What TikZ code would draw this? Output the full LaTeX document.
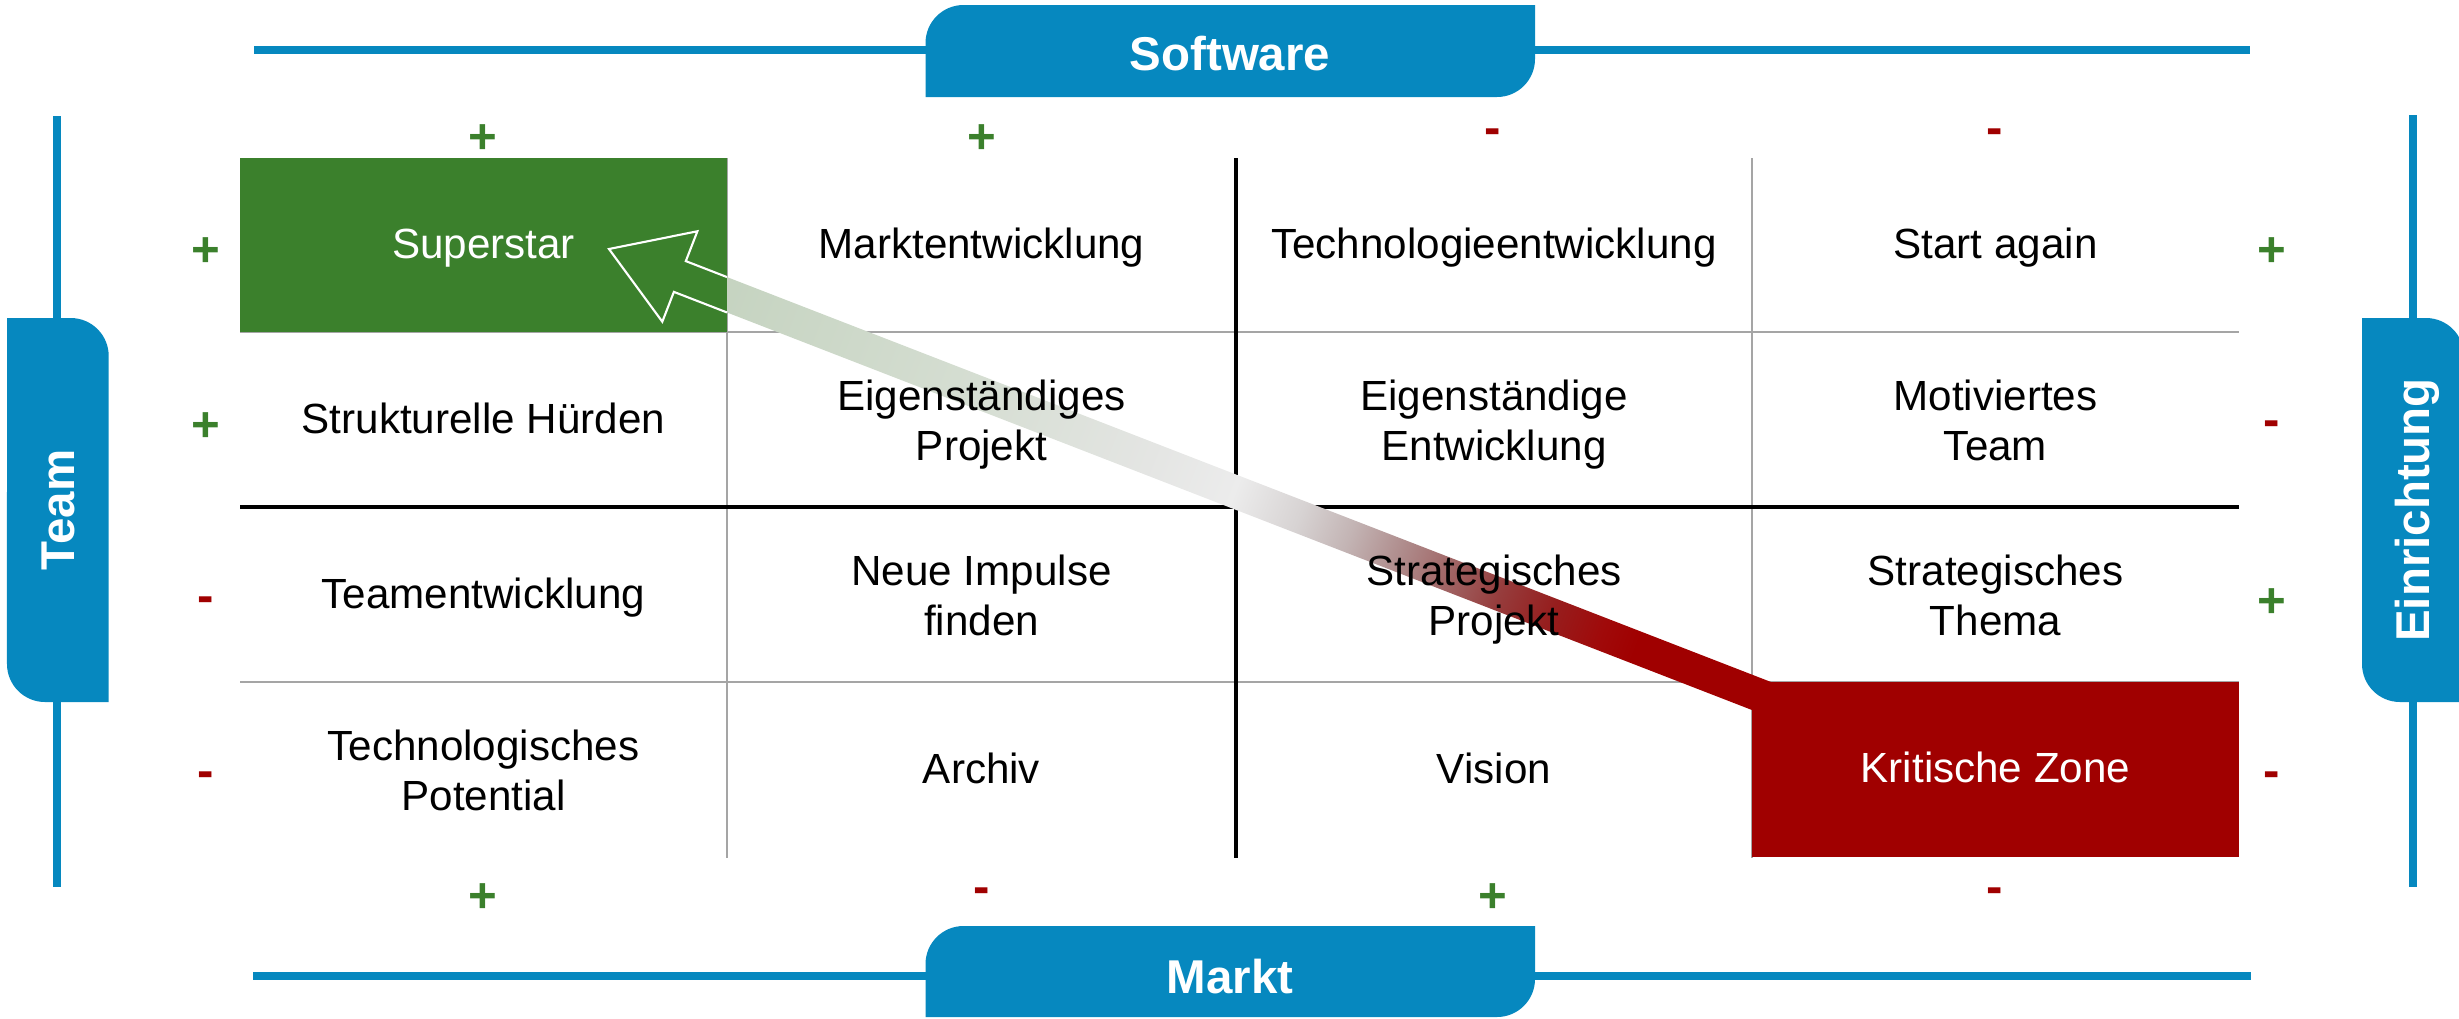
\documentclass[tikz,border=0pt]{standalone}
\usepackage{fontspec}
\setmainfont{Liberation Sans}
\definecolor{tabblue}{RGB}{6,136,191}
\definecolor{stargreen}{RGB}{59,128,44}
\definecolor{zonered}{RGB}{160,0,0}
\definecolor{gridgray}{RGB}{165,165,165}
\pgfdeclarehorizontalshading{arrowband}{100bp}{%
  rgb(0bp)=(.776,.831,.757); rgb(30bp)=(.776,.831,.757);
  rgb(40.6bp)=(.839,.871,.827); rgb(47.6bp)=(.894,.898,.890);
  rgb(51.2bp)=(.925,.925,.925); rgb(53.9bp)=(.843,.827,.827);
  rgb(56bp)=(.765,.706,.706); rgb(58.1bp)=(.686,.549,.549);
  rgb(60.2bp)=(.627,.392,.392); rgb(62.3bp)=(.588,.235,.235);
  rgb(64.4bp)=(.588,.118,.118); rgb(66.5bp)=(.627,.039,.039);
  rgb(68bp)=(.627,0,0); rgb(100bp)=(.627,0,0)}

\begin{document}
\begin{tikzpicture}[
  cell/.style={align=center, font=\fontsize{12}{14.2}\selectfont},
  oneline/.style={cell, text height=0.95em, text depth=0.21em},
  twoline/.style={cell, yshift=-1.2pt, execute at end node={\vphantom{g}}},
  hotcell/.style={oneline, text=white, inner sep=0pt, minimum width=4.87cm, minimum height=1.745cm},
  tabtext/.style={text=white, font=\fontsize{13.5}{16}\selectfont\bfseries},
  signplus/.style={text=stargreen, font=\fontsize{14}{16}\selectfont\bfseries},
  signminus/.style={text=zonered, font=\fontsize{14}{16}\selectfont\bfseries},
  thinline/.style={gridgray, line width=0.6pt},
  thickline/.style={black, line width=0.9pt},
  axisline/.style={tabblue, line width=2.4pt},
]
\useasboundingbox (0,0) rectangle (24.59,-10.18);

% axes
\draw[axisline] (2.54,-0.50) -- (22.50,-0.50);
\draw[axisline] (2.53,-9.76) -- (22.51,-9.76);
\draw[axisline] (0.57,-1.16) -- (0.57,-8.87);
\draw[axisline] (24.13,-1.15) -- (24.13,-8.87);

% tabs
\fill[tabblue] (9.255,-0.97) -- (9.255,-0.43) arc[start angle=180, end angle=90, radius=0.38]
  -- (15.35,-0.05) -- (15.35,-0.59) arc[start angle=0, end angle=-90, radius=0.38] -- cycle;
\fill[tabblue] (9.255,-10.17) -- (9.255,-9.64) arc[start angle=180, end angle=90, radius=0.38]
  -- (15.35,-9.26) -- (15.35,-9.79) arc[start angle=0, end angle=-90, radius=0.38] -- cycle;
\fill[tabblue] (0.07,-3.18) -- (0.707,-3.18) arc[start angle=90, end angle=0, radius=0.38]
  -- (1.087,-7.02) -- (0.45,-7.02) arc[start angle=270, end angle=180, radius=0.38] -- cycle;
\fill[tabblue] (23.62,-3.18) -- (24.26,-3.18) arc[start angle=90, end angle=0, radius=0.38]
  -- (24.64,-7.02) -- (24.0,-7.02) arc[start angle=270, end angle=180, radius=0.38] -- cycle;
\node[tabtext] (software) at (12.30,-0.54) {Software};
\node[tabtext] (markt) at (12.30,-9.77) {Markt};
\node[tabtext, rotate=90] (team) at (0.58,-5.10) {Team};
\node[tabtext, rotate=90] (einrichtung) at (24.17,-5.10) {Einrichtung};

% grid
\draw[thinline] (7.27,-1.58) -- (7.27,-8.575);
\draw[thinline] (17.52,-1.58) -- (17.52,-8.575);
\draw[thinline] (2.40,-3.32) -- (22.39,-3.32);
\draw[thinline] (2.40,-6.82) -- (22.39,-6.82);
\draw[thickline] (12.36,-1.58) -- (12.36,-8.575);
\draw[thickline] (2.40,-5.07) -- (22.39,-5.07);

% arrow
\begin{scope}[transform canvas={shift={(6.09,-2.49)}, rotate=-21.2}]
\shade[shading=arrowband] (0,0) -- (0.76,0.485) -- (0.76,0.165) -- (12.81,0.165)
  -- (12.81,-0.165) -- (0.76,-0.165) -- (0.76,-0.485) -- cycle;
\end{scope}

% cells
\node[hotcell, fill=stargreen] (superstar) at (4.835,-2.45) {Superstar};
\node[oneline] (marktentw) at (9.815,-2.45) {Marktentwicklung};
\node[oneline] (techentw) at (14.94,-2.45) {Technologieentwicklung};
\node[oneline] (startagain) at (19.955,-2.45) {Start again};
\node[oneline] (huerden) at (4.835,-4.20) {Strukturelle Hürden};
\node[twoline] (eigprojekt) at (9.815,-4.20) {Eigenständiges\\Projekt};
\node[twoline] (eigentw) at (14.94,-4.20) {Eigenständige\\Entwicklung};
\node[twoline] (motteam) at (19.955,-4.20) {Motiviertes\\Team};
\node[oneline] (teamentw) at (4.835,-5.95) {Teamentwicklung};
\node[twoline] (impulse) at (9.815,-5.95) {Neue Impulse\\finden};
\node[twoline] (stratprojekt) at (14.94,-5.95) {Strategisches\\Projekt};
\node[twoline] (stratthema) at (19.955,-5.95) {Strategisches\\Thema};
\node[twoline] (techpot) at (4.835,-7.70) {Technologisches\\Potential};
\node[oneline] (archiv) at (9.815,-7.70) {Archiv};
\node[oneline] (vision) at (14.94,-7.70) {Vision};
\node[hotcell, fill=zonered] (kritisch) at (19.955,-7.695) {Kritische Zone};

% arrow head
\begin{scope}[transform canvas={shift={(6.09,-2.49)}, rotate=-21.2}]
\draw[white, line width=0.6pt] (1.2017,0.165) -- (0.76,0.165) -- (0.76,0.485) -- (0,0)
  -- (0.76,-0.485) -- (0.76,-0.165) -- (1.3297,-0.165);
\end{scope}

% signs
\node[signplus] (top1) at (4.83,-1.39) {+};
\node[signplus] (top2) at (9.82,-1.39) {+};
\node[signminus] (top3) at (14.93,-1.37) {-};
\node[signminus] (top4) at (19.95,-1.37) {-};
\node[signplus] (bot1) at (4.83,-8.98) {+};
\node[signminus] (bot2) at (9.82,-8.96) {-};
\node[signplus] (bot3) at (14.93,-8.98) {+};
\node[signminus] (bot4) at (19.95,-8.96) {-};
\node[signplus] (left1) at (2.06,-2.52) {+};
\node[signplus] (left2) at (2.06,-4.27) {+};
\node[signminus] (left3) at (2.06,-6.05) {-};
\node[signminus] (left4) at (2.06,-7.80) {-};
\node[signplus] (right1) at (22.72,-2.52) {+};
\node[signminus] (right2) at (22.72,-4.29) {-};
\node[signplus] (right3) at (22.72,-6.03) {+};
\node[signminus] (right4) at (22.72,-7.80) {-};
\end{tikzpicture}
\end{document}
